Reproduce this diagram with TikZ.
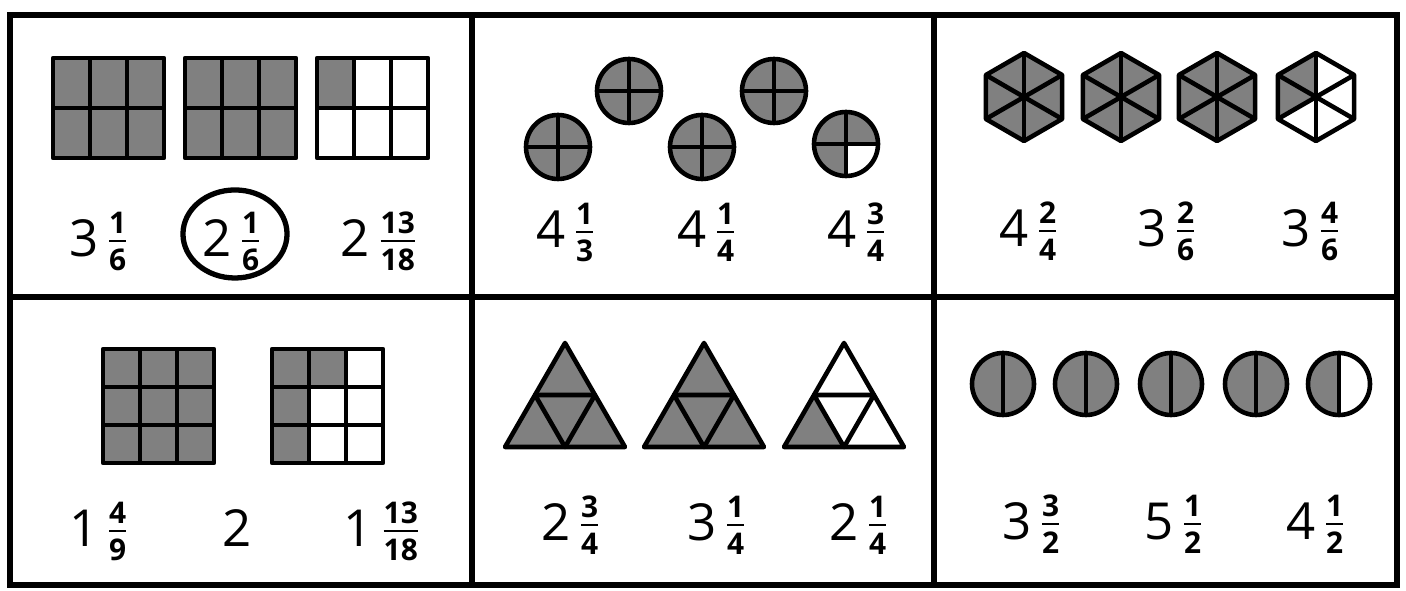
\documentclass[tikz,border=0pt]{standalone}
\usepackage{amsmath}
\usepackage{fontspec}
\setmainfont{Open Sans}
\usepackage{tikz}
\usetikzlibrary{calc}
\usepackage{xcolor}
\definecolor{stipple}{gray}{0.5}

\newcommand{\fracfont}{\fontsize{8.5}{8.5}\selectfont\bfseries}
\newcommand{\mixnum}[3]{#1\hspace{1.8pt}\raisebox{1pt}{$\genfrac{}{}{0.7pt}{}{\hbox{\fracfont #2}}{\hbox{\fracfont #3}}$}}

\begin{document}
\begin{tikzpicture}[
			x=0.01cm, y=0.01cm,
			frame/.style={draw, line width=1.6pt},
			part/.style={draw, line width=1.3pt, line join=round},
			shaded/.style={fill=stipple},
			lbl/.style={anchor=base, inner sep=0pt, font=\fontsize{14.5}{14.5}\selectfont},
			ring/.style={draw, line width=1.5pt}
		]

		\useasboundingbox (0,0) rectangle (1406,591);

		%% Panel frame
		\draw[frame] (10,6) rectangle (1397,576);
		\draw[frame] (472,6) -- (472,576);
		\draw[frame] (934,6) -- (934,576);
		\draw[frame] (10,294) -- (1397,294);

		%% 1. Squares in sixths (2 x 3 grids)
		\foreach \gx in {53,185} {
			\fill[shaded] (\gx,433) rectangle ++(111,100);
		}
		\fill[shaded] (317,483) rectangle ++(37,50);
		\foreach \gx in {53,185,317} {
			\draw[part] (\gx,433) rectangle ++(111,100);
			\draw[part] (\gx+37,433) -- ++(0,100) (\gx+74,433) -- ++(0,100)
				(\gx,483) -- ++(111,0);
		}

		\node[lbl] (a1) at (100,334) {\mixnum{3}{1}{6}};
		\node[lbl] (a2) at (233,334) {\mixnum{2}{1}{6}};
		\node[lbl] (a3) at (380,334) {\mixnum{2}{13}{18}};
		\draw[ring] ($(a2.base)+(0.02cm,0.23cm)$) ellipse [x radius=0.52cm, y radius=0.44cm];

		%% 2. Circles in quarters
		\foreach \cx/\cy in {558/444, 629/500, 702/444, 774/500, 846/447} {
			\fill[shaded] (\cx,\cy) circle (32);
		}
		\fill[white] (846,447) -- ++(0,-32) arc (-90:0:32) -- cycle;
		\foreach \cx/\cy in {558/444, 629/500, 702/444, 774/500, 846/447} {
			\draw[part] (\cx,\cy) circle (32);
			\draw[part] (\cx-32,\cy) -- (\cx+32,\cy) (\cx,\cy-32) -- (\cx,\cy+32);
		}

		\node[lbl] (b1) at (567,343) {\mixnum{4}{1}{3}};
		\node[lbl] (b2) at (708,343) {\mixnum{4}{1}{4}};
		\node[lbl] (b3) at (858,343) {\mixnum{4}{3}{4}};

		%% 3. Hexagons in sixths
		\foreach \hx in {1024,1121,1217} {
			\fill[shaded, shift={(\hx,494)}]
				(30:44) \foreach \a in {90,150,...,330} { -- (\a:44) } -- cycle;
		}
		\fill[shaded, shift={(1316,494)}] (0,0) -- (90:44) -- (150:44) -- (210:44) -- cycle;
		\foreach \hx in {1024,1121,1217,1316} {
			\draw[part, shift={(\hx,494)}]
				(30:44) \foreach \a in {90,150,...,330} { -- (\a:44) } -- cycle;
			\foreach \a in {30,90,...,330} {
				\draw[part, shift={(\hx,494)}] (0,0) -- (\a:44);
			}
		}

		\node[lbl] (c1) at (1030,344) {\mixnum{4}{2}{4}};
		\node[lbl] (c2) at (1168,344) {\mixnum{3}{2}{6}};
		\node[lbl] (c3) at (1312,344) {\mixnum{3}{4}{6}};

		%% 4. Squares in ninths (3 x 3 grids)
		\fill[shaded] (103,128) rectangle ++(111,114);
		\fill[shaded] (272,204) rectangle ++(74,38);
		\fill[shaded] (272,128) rectangle ++(37,76);
		\foreach \gx in {103,272} {
			\draw[part] (\gx,128) rectangle ++(111,114);
			\foreach \i in {1,2} {
				\draw[part] (\gx+37*\i,128) -- ++(0,114) (\gx,128+38*\i) -- ++(111,0);
			}
		}

		\node[lbl] (d1) at (100,44) {\mixnum{1}{4}{9}};
		\node[lbl] (d2) at (237,44) {2};
		\node[lbl] (d3) at (383,44) {\mixnum{1}{13}{18}};

		%% 5. Triangles in quarters
		\foreach \tx in {565,704} {
			\fill[shaded] (\tx-60,144) -- (\tx+60,144) -- (\tx,248) -- cycle;
		}
		\fill[shaded] (784,144) -- (844,144) -- (814,196) -- cycle;
		\foreach \tx in {565,704,844} {
			\draw[part] (\tx-60,144) -- (\tx+60,144) -- (\tx,248) -- cycle;
			\draw[part] (\tx-30,196) -- (\tx+30,196) -- (\tx,144) -- cycle;
		}

		\node[lbl] (e1) at (572,50) {\mixnum{2}{3}{4}};
		\node[lbl] (e2) at (718,50) {\mixnum{3}{1}{4}};
		\node[lbl] (e3) at (860,50) {\mixnum{2}{1}{4}};

		%% 6. Circles in halves
		\foreach \cx in {1003,1086,1171,1256,1339} {
			\fill[shaded] (\cx,207) circle (31);
		}
		\fill[white] (1339,176) arc (-90:90:31) -- cycle;
		\foreach \cx in {1003,1086,1171,1256,1339} {
			\draw[part] (\cx,207) circle (31);
			\draw[part] (\cx,176) -- (\cx,238);
		}

		\node[lbl] (f1) at (1033,51) {\mixnum{3}{3}{2}};
		\node[lbl] (f2) at (1175,51) {\mixnum{5}{1}{2}};
		\node[lbl] (f3) at (1317,51) {\mixnum{4}{1}{2}};

\end{tikzpicture}
\end{document}
